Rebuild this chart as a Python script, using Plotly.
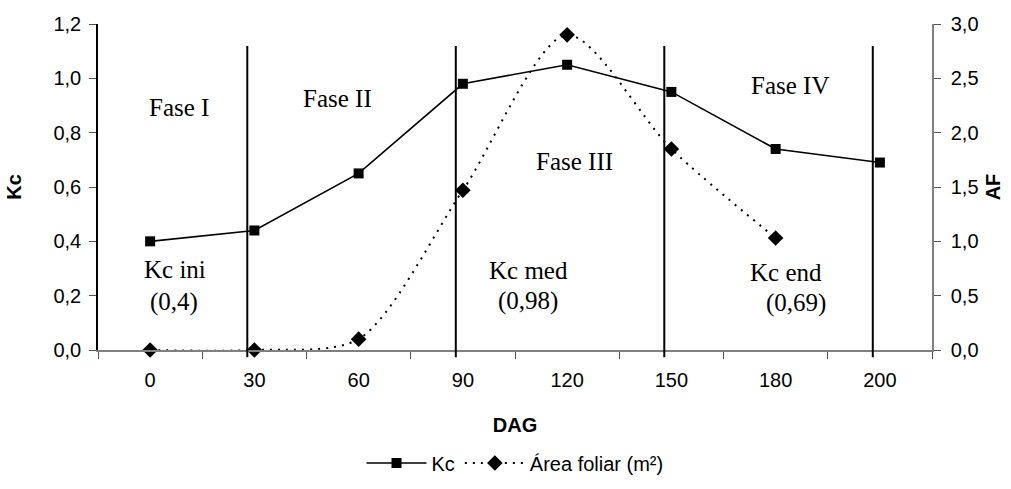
import plotly.graph_objects as go

# ---- data ----
dag = ["0", "30", "60", "90", "120", "150", "180", "200"]
kc = [0.40, 0.44, 0.65, 0.98, 1.05, 0.95, 0.74, 0.69]
af_dag = ["0", "30", "60", "90", "120", "150", "180"]
af = [0.0, 0.0, 0.10, 1.47, 2.90, 1.85, 1.03]
phase_bounds = ["30", "90", "150", "200"]
phase_labels = ["Fase I", "Fase II", "Fase III", "Fase IV"]
kc_labels = ["Kc ini", "Kc med", "Kc end"]
kc_values_txt = ["(0,4)", "(0,98)", "(0,69)"]
left_ticks = [0.0, 0.2, 0.4, 0.6, 0.8, 1.0, 1.2]
right_ticks = [0.0, 0.5, 1.0, 1.5, 2.0, 2.5, 3.0]

# ---- geometry helpers (pixel -> paper) ----
W, H = 1011, 489
L, R, T, B = 98, 932, 24, 350
def px(x):
    return (x - L) / (R - L)
def py(y):
    return (B - y) / (B - T)

SANS = "Arial, Liberation Sans, sans-serif"
SERIF = "Times New Roman, Liberation Serif, serif"
FS = 20

fig = go.Figure()
fig.add_trace(go.Scatter(
    x=dag, y=kc, name="Kc", mode="lines+markers",
    line=dict(color="black", width=1.6),
    marker=dict(symbol="square", size=10, color="black"),
    cliponaxis=False, yaxis="y", xaxis="x"))
fig.add_trace(go.Scatter(
    x=af_dag, y=af, name="Área foliar (m²)", mode="lines+markers",
    line=dict(color="black", width=2, dash="2px,6px", shape="spline", smoothing=0.8),
    marker=dict(symbol="diamond", size=12, color="black"),
    cliponaxis=False, yaxis="y2", xaxis="x"))

# phase boundary lines (slightly left of the category centre)
for b in phase_bounds:
    i = dag.index(b) - 0.068
    fig.add_shape(type="line", xref="x", yref="paper", x0=i, x1=i,
                  y0=-0.022, y1=py(46), line=dict(color="black", width=2))

ann = []
phase_pos = [(179, 108), (337, 98), (574, 161), (790, 85)]
for t, (x, y) in zip(phase_labels, phase_pos):
    ann.append(dict(text=t, x=px(x), y=py(y)))
lab_pos = [(175, 269), (528, 270), (786, 272)]
val_pos = [(174, 302), (528, 301), (796, 303)]
for t, (x, y) in zip(kc_labels, lab_pos):
    ann.append(dict(text=t, x=px(x), y=py(y)))
for t, (x, y) in zip(kc_values_txt, val_pos):
    ann.append(dict(text=t, x=px(x), y=py(y)))
for a in ann:
    a.update(xref="paper", yref="paper", showarrow=False,
             xanchor="center", yanchor="middle",
             font=dict(family=SERIF, size=25, color="black"))

tickfont = dict(family=SANS, size=FS, color="black")
titlefont = dict(family=SANS, size=FS, color="black")
fig.update_layout(
    width=W, height=H,
    margin=dict(l=L, r=W - R, t=T, b=H - B, autoexpand=False),
    paper_bgcolor="white", plot_bgcolor="white",
    separators=",.",
    showlegend=True,
    legend=dict(orientation="h", x=0.5, xanchor="center", y=py(463), yanchor="middle",
                font=dict(family=SANS, size=FS, color="black"),
                itemwidth=60, tracegroupgap=0),
    annotations=ann,
    xaxis=dict(type="category", categoryorder="array", categoryarray=dag,
               range=[-0.5, len(dag) - 0.5], automargin=False,
               tickson="boundaries", ticks="outside", ticklen=7, tickcolor="#555",
               showline=True, linecolor="#808080", linewidth=1.5,
               showgrid=False, zeroline=False, tickfont=tickfont,
               ticklabelstandoff=11,
               title=dict(text="<b>DAG</b>", font=titlefont, standoff=28)),
    xaxis2=dict(overlaying="x", anchor="y", range=[-0.5, len(dag) - 0.5],
                tick0=-0.5, dtick=1, ticks="inside", ticklen=7, tickcolor="#555",
                showticklabels=False, showline=False, showgrid=False, zeroline=False),
    yaxis=dict(range=[0, 1.2], tickvals=left_ticks, tickformat=".1f", automargin=False,
               ticks="outside", ticklen=7, tickcolor="#555",
               showline=True, linecolor="black", linewidth=1.5,
               showgrid=False, zeroline=False, tickfont=tickfont,
               ticklabelstandoff=4,
               title=dict(text="<b>Kc</b>", font=titlefont, standoff=26)),
    yaxis2=dict(range=[0, 3.0], tickvals=right_ticks, tickformat=".1f",
                overlaying="y", side="right", anchor="x", automargin=False,
                ticks="outside", ticklen=7, tickcolor="#555",
                showline=True, linecolor="#808080", linewidth=1.5,
                showgrid=False, zeroline=False, tickfont=tickfont,
                ticklabelstandoff=6,
                title=dict(text="<b>AF</b>", font=titlefont, standoff=8)),
    yaxis3=dict(overlaying="y", anchor="x", side="left", range=[0, 1.2], dtick=0.2,
                ticks="inside", ticklen=7, tickcolor="#555", showticklabels=False,
                showline=False, showgrid=False, zeroline=False),
    yaxis4=dict(overlaying="y", anchor="x", side="right", range=[0, 3.0], dtick=0.5,
                ticks="inside", ticklen=7, tickcolor="#555", showticklabels=False,
                showline=False, showgrid=False, zeroline=False),
)

fig.write_html("out.html", config={"displayModeBar": False},
               post_script="document.body.style.margin='0';")
